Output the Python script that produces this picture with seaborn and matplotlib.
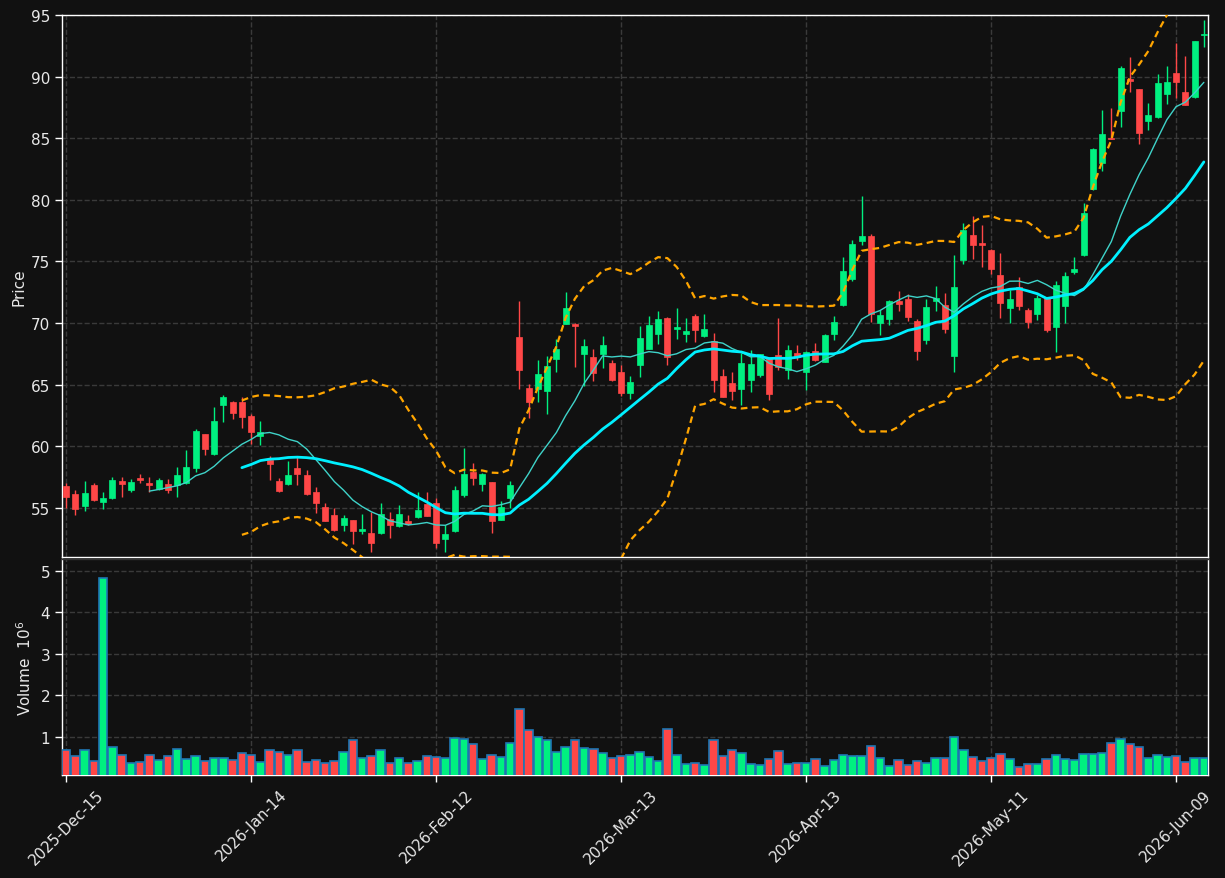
import numpy as np
import pandas as pd
import matplotlib
matplotlib.use("Agg")
import matplotlib.pyplot as plt
import seaborn as sns

# ---------------- data ----------------
opens = [56.8, 56.08, 55.14, 56.81, 55.43, 55.76, 57.14, 56.41, 57.4, 56.97,
         56.51, 56.89, 56.84, 56.97, 58.24, 60.95, 59.35, 63.32, 63.62, 63.62,
         62.47, 60.81, 58.87, 57.2, 56.96, 58.25, 57.69, 56.24, 55.03, 54.38,
         53.58, 53.98, 53.09, 52.93, 52.93, 54.06, 53.55, 53.9, 54.22, 55.27,
         55.35, 52.5, 53.1, 56.06, 57.87, 56.95, 57.06, 54.04, 55.8, 68.87,
         64.74, 64.61, 64.47, 67.06, 69.95, 69.95, 67.47, 67.2, 67.44, 66.71,
         66.04, 64.28, 66.57, 67.92, 69.08, 70.43, 69.49, 69.08, 70.57, 68.92,
         68.51, 65.7, 65.16, 64.62, 65.35, 65.81, 67.19, 67.43, 66.16, 67.57,
         66.03, 67.7, 66.84, 69.14, 71.49, 73.59, 76.62, 77.08, 70.03, 70.3,
         71.81, 71.97, 70.19, 68.59, 71.76, 71.43, 67.3, 75.14, 77.16, 76.51,
         75.95, 73.92, 71.25, 72.9, 71.06, 70.71, 72.01, 69.7, 71.41, 74.13,
         75.49, 80.84, 83.02, 85.0, 87.23, 89.81, 88.99, 86.36, 86.74, 88.59,
         90.27, 88.72, 88.37, 93.37]
highs = [57.0, 56.46, 57.19, 57.03, 56.3, 57.51, 57.51, 57.35, 57.76, 57.46,
         57.43, 57.35, 58.27, 59.65, 61.43, 61.0, 63.19, 64.16, 63.65, 64.0,
         62.6, 62.02, 59.19, 57.39, 58.82, 59.09, 58.09, 56.69, 55.4, 55.0,
         54.41, 54.0, 54.46, 54.68, 55.35, 54.62, 55.2, 54.41, 56.29, 56.29,
         55.8, 53.6, 56.8, 59.81, 58.6, 57.8, 57.1, 55.58, 57.14, 71.75,
         65.04, 67.0, 67.33, 68.71, 72.51, 70.0, 68.73, 67.92, 68.95, 67.0,
         66.58, 65.7, 69.76, 70.57, 70.97, 70.5, 71.22, 70.4, 70.76, 70.76,
         69.19, 66.3, 66.03, 67.6, 67.78, 67.5, 67.25, 70.41, 68.24, 68.19,
         67.7, 68.4, 69.1, 70.54, 75.35, 76.7, 80.3, 77.24, 71.03, 71.85,
         72.57, 72.38, 70.3, 71.97, 73.0, 72.46, 75.49, 78.14, 78.68, 77.97,
         76.0, 75.7, 72.69, 73.7, 71.2, 72.28, 72.05, 73.37, 74.13, 75.33,
         79.76, 84.24, 87.31, 87.42, 90.84, 91.58, 89.0, 87.83, 90.22, 90.84,
         92.72, 91.66, 92.9, 94.57]
lows = [54.95, 54.4, 54.73, 55.54, 54.9, 55.7, 55.86, 56.27, 57.03, 56.3,
        56.43, 56.22, 55.86, 56.9, 57.92, 59.27, 59.3, 61.97, 62.19, 61.49,
        60.19, 60.13, 57.23, 56.26, 56.83, 56.83, 56.02, 54.6, 53.9, 53.15,
        53.14, 52.07, 52.85, 51.4, 52.9, 52.58, 53.47, 53.6, 54.2, 54.3,
        51.72, 51.42, 53.0, 55.85, 56.87, 56.33, 52.94, 54.0, 54.99, 64.61,
        62.32, 63.6, 62.59, 66.04, 69.9, 66.44, 64.91, 65.28, 66.31, 65.3,
        64.1, 63.86, 65.62, 67.9, 68.32, 66.57, 68.68, 68.46, 68.46, 68.9,
        64.41, 63.95, 63.73, 63.32, 64.41, 65.62, 63.73, 66.16, 65.43, 66.97,
        64.54, 66.95, 66.8, 68.59, 71.38, 73.38, 76.35, 70.08, 69.0, 69.81,
        70.97, 70.16, 66.97, 68.32, 70.97, 69.22, 66.03, 74.78, 75.16, 74.54,
        74.0, 70.4, 69.97, 71.06, 69.57, 70.24, 69.24, 67.66, 69.97, 73.97,
        75.41, 80.8, 82.34, 84.9, 85.87, 88.72, 84.51, 85.68, 86.6, 87.77,
        88.23, 87.7, 88.3, 92.39]
closes = [55.9, 54.89, 56.16, 55.6, 55.76, 57.22, 56.89, 57.05, 57.22, 56.81,
          57.22, 56.43, 57.62, 58.27, 61.19, 59.76, 62.08, 63.95, 62.68, 62.35,
          61.13, 61.16, 58.52, 56.32, 57.69, 57.77, 56.1, 55.35, 53.95, 53.2,
          54.14, 53.12, 53.25, 52.12, 54.52, 53.6, 54.46, 53.66, 54.78, 54.35,
          52.14, 52.86, 56.42, 57.71, 57.44, 57.74, 53.96, 55.04, 56.82, 66.17,
          63.58, 65.88, 66.47, 67.92, 71.21, 69.73, 68.09, 65.9, 68.25, 65.36,
          64.28, 65.22, 68.81, 69.86, 70.35, 67.24, 69.68, 69.35, 69.41, 69.54,
          65.35, 64.0, 64.46, 66.78, 66.7, 67.46, 64.27, 66.43, 67.84, 67.24,
          67.65, 66.97, 69.05, 70.08, 74.24, 76.43, 77.08, 70.76, 70.62, 71.81,
          71.57, 70.46, 67.7, 71.32, 72.05, 69.49, 72.95, 77.51, 76.3, 76.3,
          74.35, 71.66, 71.96, 71.41, 70.11, 72.01, 69.43, 73.1, 73.78, 74.4,
          78.94, 84.1, 85.33, 84.9, 90.71, 89.62, 85.46, 86.88, 89.48, 89.54,
          89.59, 87.72, 92.88, 93.42]
volumes_m = [0.69, 0.54, 0.69, 0.42, 4.83, 0.75, 0.56, 0.37, 0.40, 0.56,
             0.45, 0.54, 0.71, 0.47, 0.54, 0.42, 0.49, 0.49, 0.45, 0.61,
             0.57, 0.40, 0.69, 0.64, 0.57, 0.69, 0.40, 0.45, 0.37, 0.42,
             0.64, 0.93, 0.49, 0.54, 0.69, 0.37, 0.49, 0.37, 0.42, 0.54,
             0.52, 0.49, 0.98, 0.95, 0.83, 0.47, 0.57, 0.52, 0.86, 1.67,
             1.17, 1.00, 0.93, 0.64, 0.76, 0.93, 0.73, 0.71, 0.61, 0.49,
             0.54, 0.57, 0.64, 0.52, 0.42, 1.19, 0.57, 0.35, 0.37, 0.33,
             0.93, 0.54, 0.69, 0.61, 0.35, 0.33, 0.47, 0.66, 0.35, 0.37,
             0.37, 0.47, 0.30, 0.45, 0.57, 0.54, 0.54, 0.78, 0.49, 0.30,
             0.45, 0.33, 0.42, 0.37, 0.49, 0.49, 1.00, 0.69, 0.52, 0.42,
             0.49, 0.59, 0.47, 0.28, 0.35, 0.35, 0.47, 0.57, 0.47, 0.45,
             0.59, 0.59, 0.61, 0.86, 0.95, 0.83, 0.76, 0.49, 0.57, 0.52,
             0.54, 0.40, 0.49, 0.49]
tick_positions = [0, 20, 40, 60, 80, 100, 120]
tick_labels = ["2025-Dec-15", "2026-Jan-14", "2026-Feb-12", "2026-Mar-13",
               "2026-Apr-13", "2026-May-11", "2026-Jun-09"]

# ---------------- style ----------------
BG = "#111111"
UP = "#00f080"
DOWN = "#ff4747"
TXT = "#e8e8e8"
sns.set_theme(style="dark")
plt.rcParams.update({
    "figure.facecolor": BG, "axes.facecolor": BG, "savefig.facecolor": BG,
    "axes.edgecolor": "white", "text.color": TXT, "axes.labelcolor": TXT,
    "xtick.color": "white", "ytick.color": "white",
    "xtick.labelcolor": TXT, "ytick.labelcolor": TXT,
    "font.size": 11, "axes.grid": True,
    "grid.color": "#3a3a3a", "grid.linestyle": "--", "grid.linewidth": 1.0,
})
plt.rcParams["font.family"] = ["DejaVu Sans"]

df = pd.DataFrame({"open": opens, "high": highs, "low": lows,
                   "close": closes, "volume": volumes_m})
df["idx"] = np.arange(len(df))
df["ma10"] = df["close"].rolling(10).mean()
df["ma20"] = df["close"].rolling(20).mean()
std20 = df["close"].rolling(20).std()
df["bb_up"] = df["ma20"] + 2 * std20
df["bb_lo"] = df["ma20"] - 2 * std20
up = df["close"] >= df["open"]
colors = np.where(up, UP, DOWN)

fig = plt.figure(figsize=(12.25, 8.79), dpi=100)
ax = fig.add_axes([62 / 1225, 1 - 558 / 879, (1208 - 62) / 1225, (558 - 16) / 879])
axv = fig.add_axes([62 / 1225, 1 - 776 / 879, (1208 - 62) / 1225, (776 - 560) / 879],
                   sharex=ax)

for a in (ax, axv):
    a.set_facecolor(BG)
    for s in a.spines.values():
        s.set_color("white")
        s.set_linewidth(1.0)
    a.grid(True, axis="both", color="#3a3a3a", linestyle="--", linewidth=1.0)
    a.tick_params(axis="both", direction="out", length=5, width=1.0,
                  colors="white", labelcolor=TXT, labelsize=11, left=True, bottom=True)
axv.spines["top"].set_color("#333333")

# candles
ax.vlines(df["idx"], df["low"], df["high"], colors=colors, linewidth=1.0, zorder=2)
body_bottom = np.minimum(df["open"], df["close"])
body_h = np.maximum(np.abs(df["close"] - df["open"]), 0.08)
ax.bar(df["idx"], body_h, bottom=body_bottom, width=0.65, color=colors,
       edgecolor=colors, linewidth=0.5, zorder=3)

# moving averages and Bollinger bands
sns.lineplot(data=df, x="idx", y="ma10", ax=ax, color="#3fd3c9", linewidth=1.0,
             estimator=None, zorder=4)
sns.lineplot(data=df, x="idx", y="ma20", ax=ax, color="#00f0ff", linewidth=2.0,
             estimator=None, zorder=4)
sns.lineplot(data=df, x="idx", y="bb_up", ax=ax, color="#ffa500", linewidth=1.6,
             estimator=None, zorder=4)
ax.lines[-1].set_linestyle((0, (3, 2)))
sns.lineplot(data=df, x="idx", y="bb_lo", ax=ax, color="#ffa500", linewidth=1.6,
             estimator=None, zorder=4)
ax.lines[-1].set_linestyle((0, (3, 2)))

ax.set_xlim(-0.45, len(df) - 1 + 0.45)
ax.set_ylim(51.0, 95.0)
ax.set_yticks([55, 60, 65, 70, 75, 80, 85, 90, 95])
ax.set_ylabel("Price", fontsize=11, color=TXT)
ax.set_xlabel("")
ax.tick_params(axis="x", labelbottom=False, length=0)

# volume
axv.bar(df["idx"], df["volume"], width=0.9, color=colors, edgecolor="#1f77b4",
        linewidth=1.2, zorder=3)
axv.set_ylim(0.08, 5.29)
axv.set_yticks([1, 2, 3, 4, 5])
axv.set_ylabel("Volume  $10^{6}$", fontsize=11, color=TXT)
axv.set_xticks(tick_positions)
axv.set_xticklabels(tick_labels, rotation=45, ha="center", fontsize=11, color=TXT)
axv.set_xlabel("")

ax.yaxis.set_label_coords(-0.031, 0.5)
axv.yaxis.set_label_coords(-0.0245, 0.5)

fig.savefig("out.png", dpi=100, facecolor=BG)
